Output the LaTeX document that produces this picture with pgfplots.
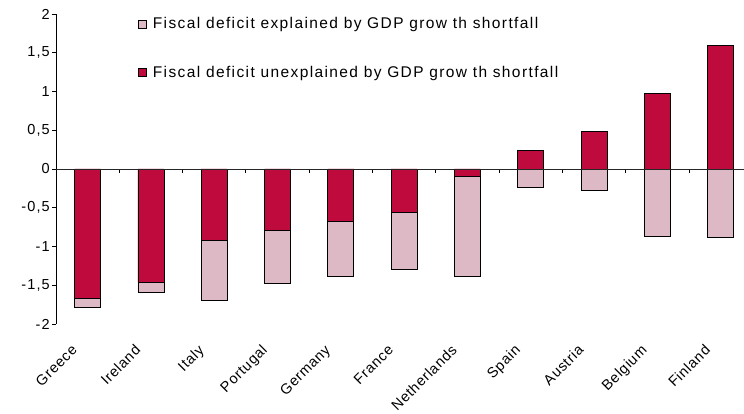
\documentclass[border=0pt]{standalone}
\usepackage{pgfplots}
\pgfplotsset{compat=1.18}
\usepackage{fontspec}
\setmainfont{Liberation Sans}
\newfontfamily\legfont[LetterSpace=9]{Liberation Sans}
\newfontfamily\tickfont[LetterSpace=8]{Liberation Sans}
\newfontfamily\catfont[LetterSpace=5]{Liberation Sans}
\definecolor{crim}{RGB}{190,10,60}
\definecolor{pinkx}{RGB}{220,185,196}
\begin{document}
\begin{tikzpicture}
\begin{axis}[
  at={(56pt,90pt)}, anchor=south west,
  scale only axis, width=688pt, height=310pt,
  xmin=-0.5, xmax=10.37, ymin=-2, ymax=2,
  axis x line*=bottom, axis y line*=left,
  x axis line style={draw=none},
  xtick={0,...,10},
  xticklabels={Greece,Ireland,Italy,Portugal,Germany,France,Netherlands,Spain,Austria,Belgium,Finland},
  xticklabel style={rotate=45, anchor=north east, font=\catfont\fontsize{14.5}{16}\selectfont, inner sep=1pt, xshift=-22pt, yshift=2pt},
  x tick style={draw=none},
  ytick={-2,-1.5,...,2},
  yticklabel style={font=\tickfont\fontsize{14.5}{16}\selectfont, inner sep=2pt},
  /pgf/number format/assume math mode=true,
  /pgf/number format/use comma, /pgf/number format/fixed,
  tick align=outside, major tick length=4pt,
  tick style={black, line width=0.8pt},
  y axis line style={line width=0.8pt},
  ybar, bar width=26pt, bar shift=0pt,
  legend style={draw=none, fill=none, at={(0.119,0.995)}, anchor=north west,
    font=\legfont\fontsize{15.5}{18}\selectfont, row sep=32pt, inner sep=0pt},
  legend cell align=left,
  legend image code/.code={\draw[#1, draw=black, line width=0.8pt] (0pt,-4pt) rectangle (8pt,4pt); \path (12pt,0pt);},
]
\addplot[fill=pinkx, draw=black, line width=0.8pt] coordinates {
(0,-1.79) (1,-1.59) (2,-1.69) (3,-1.48) (4,-1.385) (5,-1.29) (6,-1.385) (7,-0.24) (8,-0.28) (9,-0.865) (10,-0.88)};
\addlegendentry{Fiscal deficit explained by GDP grow th shortfall}
\addplot[fill=crim, draw=black, line width=0.8pt] coordinates {
(0,-1.668) (1,-1.46) (2,-0.925) (3,-0.79) (4,-0.68) (5,-0.56) (6,-0.10) (7,0.245) (8,0.49) (9,0.98) (10,1.59)};
\addlegendentry{Fiscal deficit unexplained by GDP grow th shortfall}
\end{axis}
\begin{axis}[
  at={(56pt,90pt)}, anchor=south west,
  scale only axis, width=688pt, height=310pt,
  xmin=-0.5, xmax=10.37, ymin=-2, ymax=2,
  axis x line*=middle, axis y line=none,
  x axis line style={line width=0.8pt, black!85},
  xtick={0.5,1.5,...,9.5}, xticklabels={},
  tick align=outside, major tick length=4pt,
  tick style={black, line width=0.8pt},
  ytick=\empty,
]
\end{axis}
\pgfresetboundingbox
\path[use as bounding box] (0,0) rectangle (744pt,414pt);
\end{tikzpicture}
\end{document}
